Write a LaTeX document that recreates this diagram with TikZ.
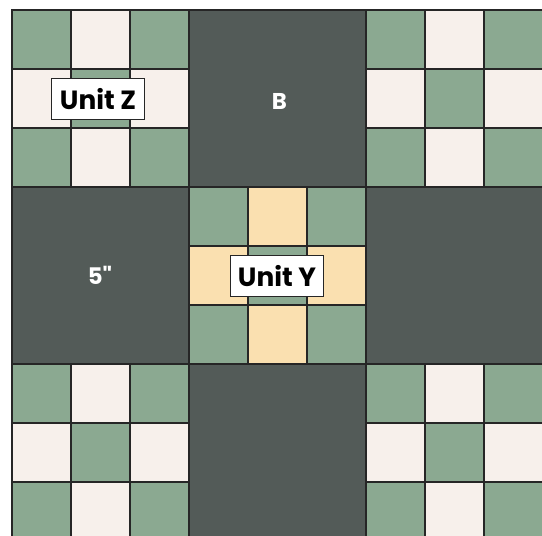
\documentclass[tikz,border=0pt]{standalone}
\usepackage{fontspec}
\setmainfont{Poppins}
\usetikzlibrary{positioning}

\definecolor{sage}{HTML}{8BA991}
\definecolor{cream}{HTML}{F7F0EB}
\definecolor{sand}{HTML}{FAE0B0}
\definecolor{slate}{HTML}{535B58}
\definecolor{seam}{HTML}{262626}

\begin{document}
\begin{tikzpicture}%
  [x=0.02cm,y=-0.02cm,
   patch/.style=
    {draw=seam,line width=1.1pt},
   plain/.style=
    {patch,fill=slate},
   tag/.style=
    {draw=seam,fill=white,line width=0.8pt,minimum width=1.86cm,
     minimum height=0.82cm,inner sep=0pt,font=\fontsize{15}{18}\selectfont\bfseries},
   blocklabel/.style=
    {text=white,inner sep=0pt,font=\fontsize{13}{16}\selectfont\bfseries}
  ]
  \useasboundingbox (0,0) rectangle (542,536);
  \clip (0,0) rectangle (542,536);
  % nine-patch blocks
  \foreach \bx/\by/\alt in {0/0/cream,2/0/cream,0/2/cream,2/2/cream,1/1/sand}
    \foreach \i in {0,1,2}
      \foreach \j in {0,1,2}
      {
        \pgfmathtruncatemacro\odd{mod(\i+\j,2)}
        \ifnum\odd=0 \def\fillc{sage}\else\def\fillc{\alt}\fi
        \draw[patch,fill=\fillc]
          ({12+(3*\bx+\i)*59},{10+(3*\by+\j)*59}) rectangle ++(59,59);
      }
  % plain blocks
  \foreach \bx/\by in {1/0,0/1,2/1,1/2}
    \draw[plain] ({12+3*\bx*59},{10+3*\by*59}) rectangle ++(177,177);
  % labels
  \node[tag] (unitz) at (98,99) {Unit Z};
  \node[tag] (unity) at (277,276) {Unit Y};
  \node[blocklabel] (blockb) at (279.5,101) {B};
  \node[blocklabel] (blocksize) at (100,275) {5\textquotedbl};
\end{tikzpicture}
\end{document}
